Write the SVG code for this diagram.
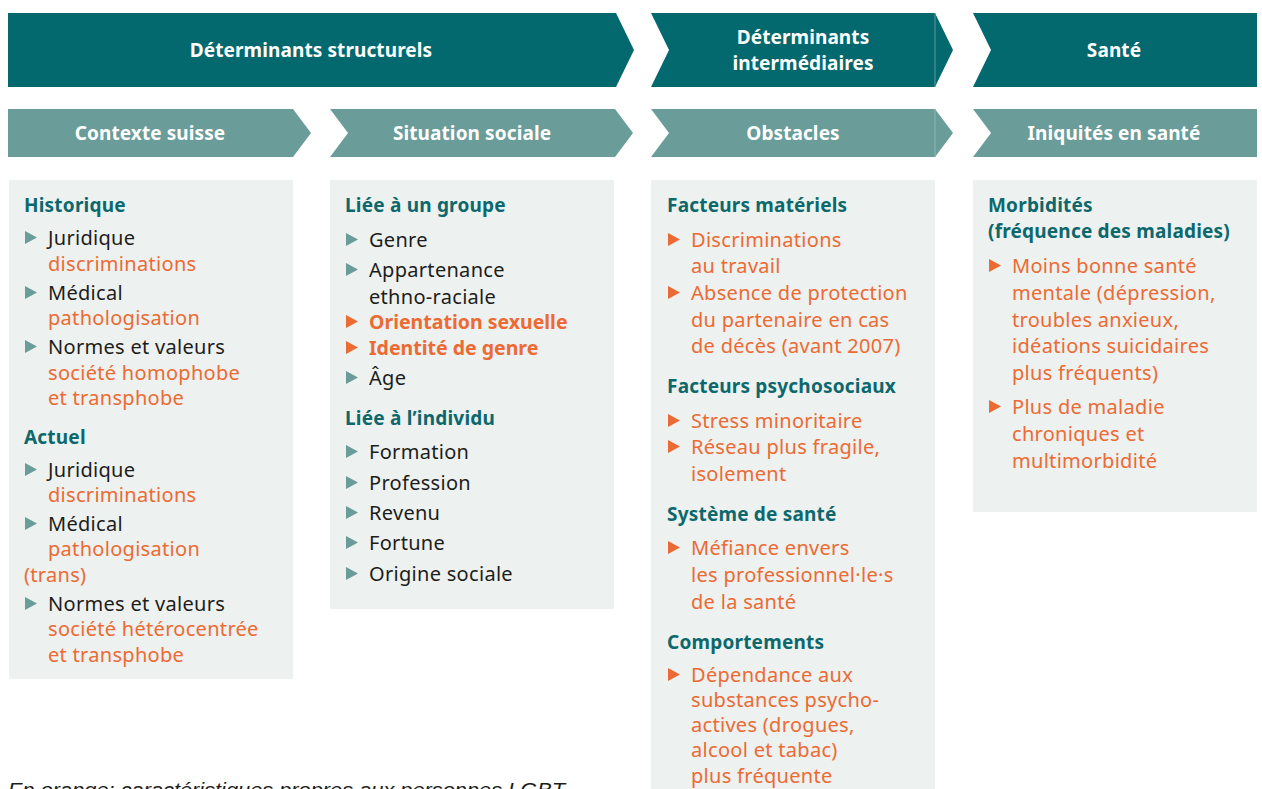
<svg xmlns="http://www.w3.org/2000/svg" width="1262" height="789" viewBox="0 0 1262 789">
<defs>
<style>
.dark{fill:#03696F}
.light{fill:#6A9D99}
.box{fill:#EDF1EF}
.sep{stroke:#5E9CA0;stroke-width:1}
.sep2{stroke:#8DB7B3;stroke-width:1}
text{font-family:"Noto Sans","Open Sans","Liberation Sans",sans-serif}
.h1{font-size:19px;font-weight:700;fill:#fff;text-anchor:middle;letter-spacing:0.1px}
.hd{font-size:19px;font-weight:700;fill:#0C686C;letter-spacing:0.2px}
.t{font-size:20px;fill:#1D1D1B;letter-spacing:0.3px}
.o{font-size:20px;fill:#EC6A33;letter-spacing:0.3px}
.ob{font-size:19.5px;fill:#EC6A33;font-weight:700}
.bt{fill:#6A9D99}
.bo{fill:#EC6A33}
.note{font-family:"Liberation Sans",Arial,sans-serif;font-size:20px;font-style:italic;fill:#1D1D1B}
</style>
<polygon id="tri" points="0,-14 12,-7.5 0,-1"/>
</defs>

<g id="header-structurels">
<polygon class="dark" points="8,13 616,13 634,50 616,87 8,87"/>
<text class="h1" x="311" y="57">Déterminants structurels</text>
</g>
<g id="header-intermediaires">
<polygon class="dark" points="651,13 935,13 953,50 935,87 651,87 669,50"/>
<line class="sep" x1="935" y1="13" x2="935" y2="87"/>
<text class="h1" x="803" y="44">Déterminants</text>
<text class="h1" x="803" y="70">intermédiaires</text>
</g>
<g id="header-sante">
<polygon class="dark" points="973,13 1257,13 1257,87 973,87 991,50"/>
<text class="h1" x="1114" y="57">Santé</text>
</g>

<g id="sub-contexte">
<polygon class="light" points="8,109 293,109 311,133 293,157 8,157"/>
<text class="h1" x="150" y="140">Contexte suisse</text>
</g>
<g id="sub-situation">
<polygon class="light" points="330,109 615,109 633,133 615,157 330,157 348,133"/>
<text class="h1" x="472" y="140">Situation sociale</text>
</g>
<g id="sub-obstacles">
<polygon class="light" points="651,109 935,109 953,133 935,157 651,157 669,133"/>
<line class="sep2" x1="935" y1="109" x2="935" y2="157"/>
<text class="h1" x="793" y="140">Obstacles</text>
</g>
<g id="sub-iniquites">
<polygon class="light" points="973,109 1257,109 1257,157 973,157 991,133"/>
<text class="h1" x="1114" y="140">Iniquités en santé</text>
</g>

<g id="col-contexte">
<rect class="box" x="9" y="180" width="284" height="499"/>
<text class="hd" x="24" y="212">Historique</text>
<use href="#tri" class="bt" x="25" y="245"/>
<text class="t" x="48" y="245">Juridique</text>
<text class="o" x="48" y="271">discriminations</text>
<use href="#tri" class="bt" x="25" y="300"/>
<text class="t" x="48" y="300">Médical</text>
<text class="o" x="48" y="325">pathologisation</text>
<use href="#tri" class="bt" x="25" y="354"/>
<text class="t" x="48" y="354">Normes et valeurs</text>
<text class="o" x="48" y="380">société homophobe</text>
<text class="o" x="48" y="405">et transphobe</text>
<text class="hd" x="24" y="444">Actuel</text>
<use href="#tri" class="bt" x="25" y="477"/>
<text class="t" x="48" y="477">Juridique</text>
<text class="o" x="48" y="502">discriminations</text>
<use href="#tri" class="bt" x="25" y="531"/>
<text class="t" x="48" y="531">Médical</text>
<text class="o" x="48" y="556">pathologisation</text>
<text class="o" x="24" y="582">(trans)</text>
<use href="#tri" class="bt" x="25" y="611"/>
<text class="t" x="48" y="611">Normes et valeurs</text>
<text class="o" x="48" y="636">société hétérocentrée</text>
<text class="o" x="48" y="662">et transphobe</text>
</g>

<g id="col-situation">
<rect class="box" x="330" y="180" width="284" height="429"/>
<text class="hd" x="345" y="212">Liée à un groupe</text>
<use href="#tri" class="bt" x="346" y="247"/>
<text class="t" x="369" y="247">Genre</text>
<use href="#tri" class="bt" x="346" y="277"/>
<text class="t" x="369" y="277">Appartenance</text>
<text class="t" x="369" y="304">ethno-raciale</text>
<use href="#tri" class="bo" x="346" y="329"/>
<text class="ob" x="369" y="329">Orientation sexuelle</text>
<use href="#tri" class="bo" x="346" y="355"/>
<text class="ob" x="369" y="355">Identité de genre</text>
<use href="#tri" class="bt" x="346" y="385"/>
<text class="t" x="369" y="385">Âge</text>
<text class="hd" x="345" y="425">Liée à l’individu</text>
<use href="#tri" class="bt" x="346" y="459"/>
<text class="t" x="369" y="459">Formation</text>
<use href="#tri" class="bt" x="346" y="490"/>
<text class="t" x="369" y="490">Profession</text>
<use href="#tri" class="bt" x="346" y="520"/>
<text class="t" x="369" y="520">Revenu</text>
<use href="#tri" class="bt" x="346" y="550"/>
<text class="t" x="369" y="550">Fortune</text>
<use href="#tri" class="bt" x="346" y="581"/>
<text class="t" x="369" y="581">Origine sociale</text>
</g>

<g id="col-obstacles">
<rect class="box" x="651" y="180" width="284" height="620"/>
<text class="hd" x="667" y="212">Facteurs matériels</text>
<use href="#tri" class="bo" x="668" y="247"/>
<text class="o" x="691" y="247">Discriminations</text>
<text class="o" x="691" y="273">au travail</text>
<use href="#tri" class="bo" x="668" y="300"/>
<text class="o" x="691" y="300">Absence de protection</text>
<text class="o" x="691" y="327">du partenaire en cas</text>
<text class="o" x="691" y="353">de décès (avant 2007)</text>
<text class="hd" x="667" y="393">Facteurs psychosociaux</text>
<use href="#tri" class="bo" x="668" y="428"/>
<text class="o" x="691" y="428">Stress minoritaire</text>
<use href="#tri" class="bo" x="668" y="454"/>
<text class="o" x="691" y="454">Réseau plus fragile,</text>
<text class="o" x="691" y="481">isolement</text>
<text class="hd" x="667" y="521">Système de santé</text>
<use href="#tri" class="bo" x="668" y="555"/>
<text class="o" x="691" y="555">Méfiance envers</text>
<text class="o" x="691" y="582">les professionnel·le·s</text>
<text class="o" x="691" y="609">de la santé</text>
<text class="hd" x="667" y="649">Comportements</text>
<use href="#tri" class="bo" x="668" y="682"/>
<text class="o" x="691" y="682">Dépendance aux</text>
<text class="o" x="691" y="707">substances psycho-</text>
<text class="o" x="691" y="732">actives (drogues,</text>
<text class="o" x="691" y="757">alcool et tabac)</text>
<text class="o" x="691" y="783">plus fréquente</text>
</g>

<g id="col-iniquites">
<rect class="box" x="973" y="180" width="284" height="332"/>
<text class="hd" x="988" y="212">Morbidités</text>
<text class="hd" x="988" y="238">(fréquence des maladies)</text>
<use href="#tri" class="bo" x="989" y="273"/>
<text class="o" x="1012" y="273">Moins bonne santé</text>
<text class="o" x="1012" y="300">mentale (dépression,</text>
<text class="o" x="1012" y="327">troubles anxieux,</text>
<text class="o" x="1012" y="353">idéations suicidaires</text>
<text class="o" x="1012" y="380">plus fréquents)</text>
<use href="#tri" class="bo" x="989" y="414"/>
<text class="o" x="1012" y="414">Plus de maladie</text>
<text class="o" x="1012" y="441">chroniques et</text>
<text class="o" x="1012" y="468">multimorbidité</text>
</g>

<g id="connectors"></g>

<text class="note" x="8" y="797" textLength="557" lengthAdjust="spacingAndGlyphs">En orange: caractéristiques propres aux personnes LGBT</text>
</svg>
